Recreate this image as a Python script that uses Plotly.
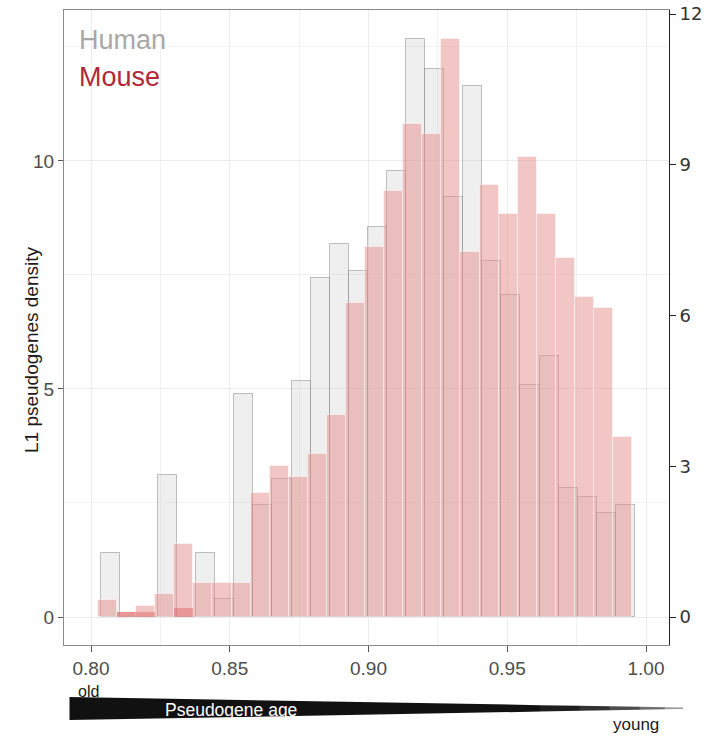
import numpy as np
import plotly.graph_objects as go

# --- Data -------------------------------------------------------------------
# Histogram of L1 pseudogene identity (proxy for age), 28 bins per species.
BIN_WIDTH = 0.006876
HUMAN_BIN_START = 0.8035
MOUSE_BIN_START = 0.8025

# Human density (left axis)
human_density = [1.41, 0.0, 0.0, 3.11, 0.0, 1.41, 0.39, 4.89, 2.46, 3.03,
                 5.18, 7.43, 8.18, 7.59, 8.55, 9.77, 12.67, 12.01, 9.20, 11.64,
                 7.80, 7.05, 5.08, 5.73, 2.82, 2.63, 2.27, 2.46]

# Mouse density (right axis)
mouse_density = [0.34, 0.105, 0.22, 0.46, 1.45, 0.67, 0.67, 0.67, 2.46, 3.01,
                 2.79, 3.24, 4.02, 6.24, 7.37, 8.48, 9.82, 9.61, 11.50, 7.27,
                 8.60, 8.03, 9.16, 8.03, 7.15, 6.36, 6.14, 3.58]

# Second mouse layer, only present in a few of the oldest bins
mouse_lower_layer = [0.0, 0.105, 0.105, 0.0, 0.17, 0.0, 0.0, 0.0, 0.0, 0.0,
                     0.0, 0.0, 0.0, 0.0, 0.0, 0.0, 0.0, 0.0, 0.0, 0.0,
                     0.0, 0.0, 0.0, 0.0, 0.0, 0.0, 0.0, 0.0]

x_ticks = [0.80, 0.85, 0.90, 0.95, 1.00]
x_tick_labels = ["0.80", "0.85", "0.90", "0.95", "1.00"]
left_ticks = [0, 5, 10]
right_ticks = [0, 3, 6, 9, 12]

human_centers = HUMAN_BIN_START + (np.arange(len(human_density)) + 0.5) * BIN_WIDTH
mouse_centers = MOUSE_BIN_START + (np.arange(len(mouse_density)) + 0.5) * BIN_WIDTH

# --- Figure -----------------------------------------------------------------
W, H = 710, 736
ML, MR, MT, MB = 64, 41, 10, 91
PW, PH = W - ML - MR, H - MT - MB


def px(x):
    return (x - ML) / PW


def py(y):
    return (H - MB - y) / PH


FONT = "Liberation Sans, Arial, Helvetica, sans-serif"

fig = go.Figure()
fig.add_trace(go.Bar(
    x=human_centers, y=human_density, width=BIN_WIDTH, name="Human",
    marker=dict(color="rgba(190,190,190,0.25)",
                line=dict(color="rgba(140,140,140,0.55)", width=1)),
    yaxis="y", showlegend=False,
))
fig.add_trace(go.Bar(
    x=mouse_centers, y=mouse_density, width=BIN_WIDTH, name="Mouse",
    marker=dict(color="rgba(231,141,141,0.5)",
                line=dict(color="rgba(255,255,255,0.45)", width=1)),
    yaxis="y2", showlegend=False,
))
fig.add_trace(go.Bar(
    x=mouse_centers, y=mouse_lower_layer, width=BIN_WIDTH, name="Mouse (layer)",
    marker=dict(color="rgba(220,90,90,0.45)", line=dict(width=0)),
    yaxis="y2", showlegend=False,
))

fig.update_layout(
    width=W, height=H,
    margin=dict(l=ML, r=MR, t=MT, b=MB, autoexpand=False),
    paper_bgcolor="white", plot_bgcolor="white",
    barmode="overlay", bargap=0,
    font=dict(family=FONT),
    xaxis=dict(
        range=[0.79027, 1.00829], automargin=False,
        tickvals=x_ticks, ticktext=x_tick_labels,
        showgrid=True, gridcolor="#ebebeb", gridwidth=1,
        minor=dict(tickvals=[0.825, 0.875, 0.925, 0.975], showgrid=True,
                   gridcolor="#f2f2f2", gridwidth=1),
        ticks="outside", ticklen=6, tickcolor="#555555",
        showline=True, linecolor="#8a8a8a", linewidth=1, mirror=True,
        zeroline=False,
        tickfont=dict(size=19, color="#4d4d4d", family=FONT),
    ),
    yaxis=dict(
        range=[-0.614, 13.31], automargin=False,
        tickvals=left_ticks,
        showgrid=True, gridcolor="#ebebeb", gridwidth=1,
        minor=dict(tickvals=[2.5, 7.5, 12.5], showgrid=True,
                   gridcolor="#f2f2f2", gridwidth=1),
        ticks="outside", ticklen=5, tickcolor="#555555",
        showline=True, linecolor="#8a8a8a", linewidth=1, mirror=True,
        zeroline=False,
        tickfont=dict(size=19, color="#4d4d4d", family=FONT),
    ),
    yaxis2=dict(
        overlaying="y", side="right", automargin=False,
        range=[-0.557, 12.08],
        tickvals=right_ticks,
        showgrid=False, zeroline=False,
        ticks="outside", ticklen=6, tickcolor="#222222",
        showline=True, linecolor="#222222", linewidth=1,
        tickfont=dict(size=18, color="#333333",
                      family="DejaVu Sans, sans-serif"),
    ),
)

annotations = [
    dict(text="Human", x=px(77), y=py(40), xanchor="left", yanchor="middle",
         font=dict(size=27, color="#a8a8a8", family=FONT)),
    dict(text="Mouse", x=px(77), y=py(77), xanchor="left", yanchor="middle",
         font=dict(size=27, color="#b0283a", family=FONT)),
    dict(text="L1 pseudogenes density", x=px(32), y=py(350), textangle=-90,
         xanchor="center", yanchor="middle",
         font=dict(size=19, color="#1a1a1a", family=FONT)),
    dict(text="old", x=px(76), y=py(691), xanchor="left", yanchor="middle",
         font=dict(size=16, color="#1a1a1a", family=FONT)),
    dict(text="Pseudogene age", x=px(163), y=py(710), xanchor="left",
         yanchor="middle", font=dict(size=17.5, color="white", family=FONT)),
    dict(text="young", x=px(611), y=py(724), xanchor="left", yanchor="middle",
         font=dict(size=17, color="#1a1a1a", family=FONT)),
]
for a in annotations:
    a.update(xref="paper", yref="paper", showarrow=False)
fig.update_layout(annotations=annotations)

# Age wedge: wide (old) on the left, tapering to a point (young) on the right.
# The thin end fades out, drawn as a few segments of decreasing darkness.
x0, x1 = 70, 683
top0, bot0 = 697.0, 720.0
top1, bot1 = 707.6, 709.0


def edge(x):
    t = (x - x0) / (x1 - x0)
    return top0 + t * (top1 - top0), bot0 + t * (bot1 - bot0)


stops = [70, 540, 580, 610, 640, 665, 683]
shades = ["#111111", "#1e1e1e", "#333333", "#4d4d4d", "#6e6e6e", "#9a9a9a"]
shapes = []
for (xa, xb), col in zip(zip(stops[:-1], stops[1:]), shades):
    ta, ba = edge(xa)
    tb, bb = edge(xb)
    path = (f"M {px(xa - 0.5)},{py(ta)} L {px(xb)},{py(tb)} "
            f"L {px(xb)},{py(bb)} L {px(xa - 0.5)},{py(ba)} Z")
    shapes.append(dict(type="path", path=path, xref="paper", yref="paper",
                       fillcolor=col, line=dict(width=0), layer="above"))
fig.update_layout(shapes=shapes)

fig.write_html("out.html")
